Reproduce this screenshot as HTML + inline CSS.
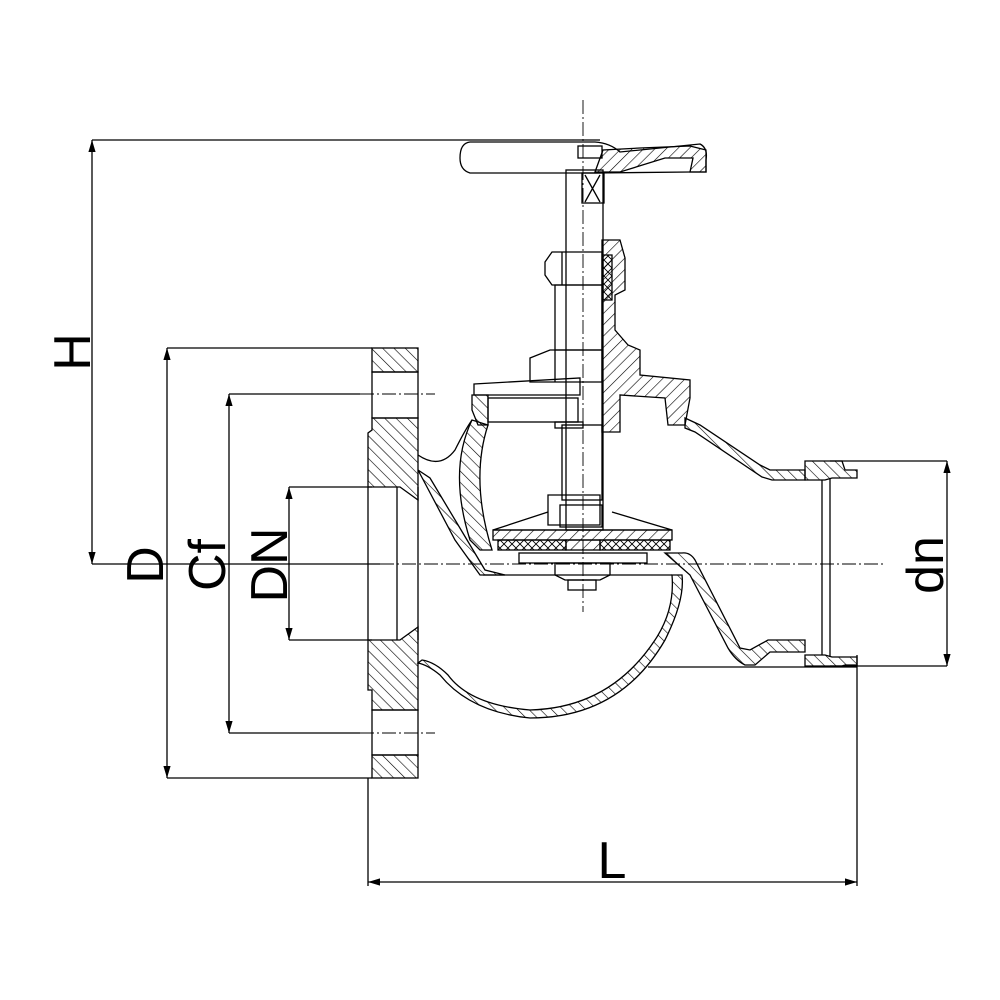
<!DOCTYPE html>
<html><head><meta charset="utf-8"><style>html,body{margin:0;padding:0;background:#fff}svg{display:block}</style></head><body>
<svg width="1000" height="1000" viewBox="0 0 1000 1000" xmlns="http://www.w3.org/2000/svg">
<defs>
<pattern id="h" patternUnits="userSpaceOnUse" width="8" height="8" patternTransform="rotate(45)"><line x1="0" y1="0" x2="0" y2="8" stroke="#000" stroke-width="1.2"/></pattern>
<pattern id="h2" patternUnits="userSpaceOnUse" width="8" height="8" patternTransform="rotate(-45)"><line x1="0" y1="0" x2="0" y2="8" stroke="#000" stroke-width="1.2"/></pattern>
<pattern id="x" patternUnits="userSpaceOnUse" width="8" height="8"><path d="M0 0L8 8M8 0L0 8" stroke="#000" stroke-width="0.9"/></pattern>
<marker id="a" viewBox="0 0 10 10" refX="10" refY="5" markerWidth="12" markerHeight="12" markerUnits="userSpaceOnUse" orient="auto-start-reverse"><path d="M0 2L10 5L0 8Z" fill="#000"/></marker>
</defs>
<g fill="none" stroke="#000" stroke-width="1.3">
<line x1="92" y1="140" x2="600" y2="140"/>
<line x1="92" y1="564" x2="380" y2="564"/>
<line x1="167" y1="348" x2="372" y2="348"/>
<line x1="167" y1="778" x2="372" y2="778"/>
<line x1="229" y1="394" x2="360" y2="394"/>
<line x1="229" y1="733" x2="360" y2="733"/>
<line x1="289" y1="487" x2="372" y2="487"/>
<line x1="289" y1="640" x2="372" y2="640"/>
<line x1="830" y1="461" x2="947" y2="461"/>
<line x1="830" y1="666" x2="947" y2="666"/>
<line x1="368" y1="778" x2="368" y2="886"/>
<line x1="857" y1="655" x2="857" y2="886"/>
<line x1="92" y1="140" x2="92" y2="564" marker-start="url(#a)" marker-end="url(#a)"/>
<line x1="167" y1="348" x2="167" y2="778" marker-start="url(#a)" marker-end="url(#a)"/>
<line x1="229" y1="394" x2="229" y2="733" marker-start="url(#a)" marker-end="url(#a)"/>
<line x1="289" y1="487" x2="289" y2="640" marker-start="url(#a)" marker-end="url(#a)"/>
<line x1="947" y1="461" x2="947" y2="666" marker-start="url(#a)" marker-end="url(#a)"/>
<line x1="368" y1="882" x2="857" y2="882" marker-start="url(#a)" marker-end="url(#a)"/>
<g stroke-dasharray="14 3 2 3" stroke-width="0.9">
<line x1="380" y1="564" x2="885" y2="564"/>
<line x1="360" y1="394" x2="435" y2="394"/>
<line x1="360" y1="733" x2="435" y2="733"/>
<line x1="583" y1="100" x2="583" y2="612"/>
</g>
<rect x="372" y="348" width="46" height="24" fill="url(#h2)"/>
<rect x="372" y="372" width="46" height="46"/>
<path d="M372 418H418V500L400 487L368 487V433L372 430Z" fill="url(#h2)"/>
<path d="M368 640H400L418 627V710H372V690L368 690Z" fill="url(#h2)"/>
<rect x="372" y="710" width="46" height="45"/>
<rect x="372" y="755" width="46" height="23" fill="url(#h2)"/>
<line x1="397" y1="487" x2="397" y2="640"/>
<line x1="418" y1="487" x2="418" y2="640"/>
<line x1="368" y1="487" x2="368" y2="640"/>
<path d="M418 455Q440 470 455 450Q465 430 472 420" />
<path d="M418 470L430 478L485 570L505 575L480 575L455 540Z" fill="url(#h2)"/>
<path d="M472 420Q448 470 470 540L480 550L492 550Q470 480 488 425Z" fill="url(#h2)"/>
<path d="M418 663Q428 665 440 675Q470 712 530 718Q620 718 665 640Q685 600 682 575L672 575Q675 610 655 640Q610 708 530 710Q470 705 448 675Q435 662 422 660Z" fill="url(#h2)"/>
<line x1="483" y1="575" x2="672" y2="575"/>
<path d="M665 553L682 553Q690 552 695 560L740 648L750 650L768 640H805V652H770L755 665H745Q735 660 728 648L690 575Z" fill="url(#h2)"/>
<line x1="648" y1="667" x2="857" y2="667"/>
<path d="M685 418L700 425L760 465L770 470H805V480H772L762 477L695 432L685 428Z" fill="url(#h2)"/>
<path d="M805 461H842L845 470H857V478H832L825 480H805Z" fill="url(#h2)"/>
<path d="M805 655H825L832 657H857V665H845L842 666H805Z" fill="url(#h2)"/>
<line x1="822" y1="480" x2="822" y2="655"/>
<line x1="830" y1="478" x2="830" y2="657"/>
<path d="M474 384L580 378V395H474Z"/>
<path d="M472 395H488V425H478L472 410Z" fill="url(#h2)"/>
<rect x="488" y="398" width="90" height="24"/>
<rect x="555" y="422" width="28" height="6"/>
<path d="M602 240H620L625 258V290L615 295V330L628 345L640 350V375L690 380V398L685 425H668L665 398L620 395V432H602Z" fill="url(#h)"/>
<path d="M603 255H612V300H603Z" fill="url(#x)"/>
<path d="M545 262L552 252H602V285H552L545 275Z"/>
<line x1="562" y1="252" x2="562" y2="285"/>
<path d="M555 285H602V350H555Z"/>
<path d="M530 358L550 350H602V382H530Z"/>
<line x1="555" y1="350" x2="555" y2="382"/>
<rect x="566" y="170" width="37" height="360"/>
<rect x="562" y="425" width="40" height="75"/>
<path d="M470 142H595Q610 143 620 152L700 144Q708 148 706 160V172H690L595 173H470Q460 170 460 158Q460 143 470 142Z"/>
<path d="M595 172L603 150L640 148L690 146L706 150V172H690L693 158L665 158L620 172Z" fill="url(#h)"/>
<rect x="578" y="146" width="24" height="12"/>
<rect x="582" y="173" width="22" height="30"/>
<path d="M585 175L600 202M600 175L585 202"/>
<path d="M548 495H600V525H548Z"/>
<rect x="560" y="505" width="42" height="22"/>
<path d="M548 512L493 530H672L612 512"/>
<rect x="493" y="530" width="179" height="10" fill="url(#h)"/>
<rect x="498" y="540" width="68" height="10" fill="url(#x)"/>
<rect x="600" y="540" width="70" height="10" fill="url(#x)"/>
<rect x="566" y="540" width="34" height="10" fill="url(#h)"/>
<rect x="519" y="553" width="128" height="10"/>
<path d="M555 563H610V575L600 580H565L555 575Z"/>
<rect x="568" y="580" width="28" height="10"/>
</g>
<g font-family="Liberation Sans, sans-serif" font-size="52" fill="#000">
<text transform="translate(90 352) rotate(-90)" text-anchor="middle">H</text>
<text transform="translate(163 565) rotate(-90)" text-anchor="middle">D</text>
<text transform="translate(225 565) rotate(-90)" text-anchor="middle">Cf</text>
<text transform="translate(287 565) rotate(-90)" text-anchor="middle">DN</text>
<text transform="translate(943 565) rotate(-90)" text-anchor="middle">dn</text>
<text x="612" y="878" text-anchor="middle">L</text>
</g>
</svg>
</body></html>
